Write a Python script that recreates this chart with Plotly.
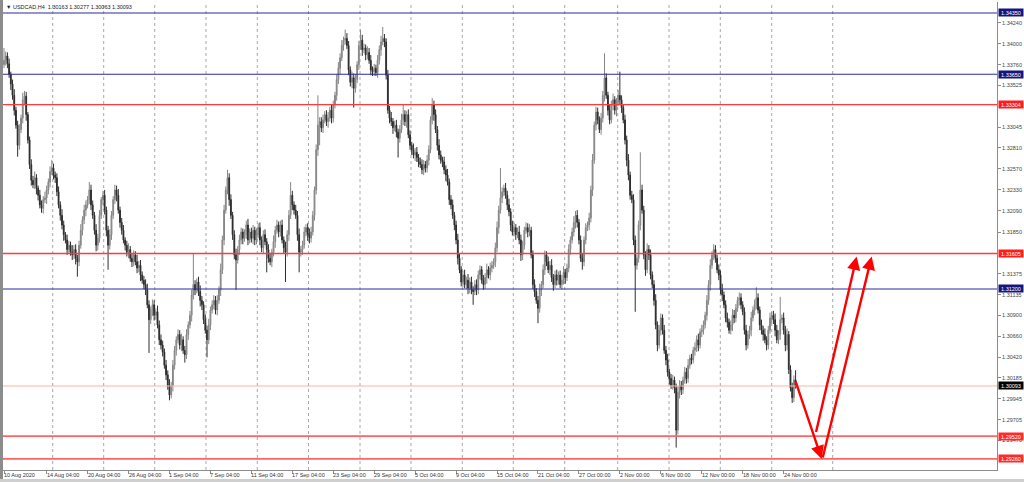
import plotly.graph_objects as go

# ---------------- data (USDCAD H4, 10 Aug 2020 -> 25 Nov 2020) ----------------
open_first = 1.3376
close = [
    1.3381, 1.3386, 1.3377, 1.3365, 1.3354, 1.3341, 1.3324, 1.3307, 1.3284, 1.3302, 1.3315, 1.3336, 1.3340, 1.3319, 1.3290, 1.3262, 1.3244, 1.3239, 1.3247, 1.3235, 1.3227, 1.3216, 1.3212, 1.3222, 1.3224, 1.3233, 1.3242, 1.3254, 1.3258, 1.3250, 1.3247,
    1.3231, 1.3216, 1.3204, 1.3193, 1.3182, 1.3176, 1.3165, 1.3170, 1.3162, 1.3159, 1.3165, 1.3155, 1.3151, 1.3170, 1.3187, 1.3199, 1.3210, 1.3216, 1.3222, 1.3233, 1.3216, 1.3204, 1.3187, 1.3170, 1.3178, 1.3204, 1.3222, 1.3227, 1.3210, 1.3187, 1.3170,
    1.3182, 1.3204, 1.3222, 1.3233, 1.3227, 1.3210, 1.3196, 1.3187, 1.3176, 1.3170, 1.3162, 1.3165, 1.3155, 1.3151, 1.3159, 1.3151, 1.3144, 1.3147, 1.3136, 1.3130, 1.3125, 1.3119, 1.3102, 1.3085, 1.3096, 1.3102, 1.3090, 1.3094, 1.3079, 1.3062, 1.3056,
    1.3048, 1.3033, 1.3022, 1.3010, 1.2999, 1.3010, 1.3033, 1.3050, 1.3062, 1.3068, 1.3056, 1.3062, 1.3050, 1.3045, 1.3068, 1.3079, 1.3090, 1.3113, 1.3125, 1.3119, 1.3128, 1.3117, 1.3107, 1.3102, 1.3085, 1.3073, 1.3062, 1.3079, 1.3096, 1.3102, 1.3107,
    1.3096, 1.3107, 1.3119, 1.3142, 1.3176, 1.3210, 1.3233, 1.3247, 1.3222, 1.3204, 1.3182, 1.3159, 1.3153, 1.3165, 1.3176, 1.3185, 1.3178, 1.3182, 1.3193, 1.3176, 1.3185, 1.3178, 1.3187, 1.3176, 1.3182, 1.3190, 1.3176, 1.3167, 1.3182, 1.3174, 1.3165,
    1.3155, 1.3151, 1.3162, 1.3174, 1.3187, 1.3193, 1.3185, 1.3193, 1.3176, 1.3167, 1.3162, 1.3182, 1.3204, 1.3227, 1.3216, 1.3210, 1.3204, 1.3182, 1.3162, 1.3165, 1.3170, 1.3185, 1.3190, 1.3182, 1.3178, 1.3185, 1.3204, 1.3233, 1.3279, 1.3307, 1.3311,
    1.3304, 1.3313, 1.3319, 1.3311, 1.3315, 1.3324, 1.3315, 1.3330, 1.3341, 1.3359, 1.3372, 1.3384, 1.3398, 1.3404, 1.3406, 1.3398, 1.3370, 1.3356, 1.3361, 1.3349, 1.3359, 1.3376, 1.3398, 1.3404, 1.3393, 1.3395, 1.3387, 1.3390, 1.3381, 1.3370, 1.3368,
    1.3372, 1.3367, 1.3381, 1.3393, 1.3402, 1.3406, 1.3402, 1.3364, 1.3324, 1.3315, 1.3311, 1.3304, 1.3307, 1.3299, 1.3292, 1.3302, 1.3313, 1.3319, 1.3311, 1.3319, 1.3296, 1.3284, 1.3279, 1.3273, 1.3276, 1.3270, 1.3265, 1.3262, 1.3256, 1.3262, 1.3258,
    1.3267, 1.3279, 1.3313, 1.3330, 1.3319, 1.3302, 1.3284, 1.3273, 1.3267, 1.3265, 1.3256, 1.3250, 1.3242, 1.3222, 1.3216, 1.3204, 1.3193, 1.3176, 1.3155, 1.3142, 1.3128, 1.3136, 1.3125, 1.3130, 1.3121, 1.3128, 1.3119, 1.3117, 1.3125, 1.3119, 1.3136,
    1.3142, 1.3130, 1.3125, 1.3133, 1.3142, 1.3136, 1.3144, 1.3147, 1.3151, 1.3167, 1.3190, 1.3210, 1.3224, 1.3231, 1.3235, 1.3227, 1.3216, 1.3208, 1.3193, 1.3185, 1.3190, 1.3182, 1.3185, 1.3176, 1.3159, 1.3170, 1.3187, 1.3190, 1.3185, 1.3187, 1.3159,
    1.3125, 1.3117, 1.3107, 1.3098, 1.3119, 1.3125, 1.3142, 1.3159, 1.3151, 1.3142, 1.3147, 1.3133, 1.3125, 1.3136, 1.3130, 1.3136, 1.3125, 1.3130, 1.3139, 1.3133, 1.3144, 1.3165, 1.3176, 1.3185, 1.3196, 1.3204, 1.3196, 1.3176, 1.3155, 1.3151, 1.3176,
    1.3190, 1.3193, 1.3201, 1.3233, 1.3267, 1.3307, 1.3322, 1.3313, 1.3302, 1.3315, 1.3341, 1.3361, 1.3341, 1.3324, 1.3313, 1.3330, 1.3336, 1.3324, 1.3333, 1.3341, 1.3336, 1.3327, 1.3313, 1.3290, 1.3267, 1.3250, 1.3227, 1.3222, 1.3176, 1.3147, 1.3155,
    1.3193, 1.3233, 1.3210, 1.3159, 1.3142, 1.3165, 1.3159, 1.3136, 1.3125, 1.3107, 1.3079, 1.3056, 1.3073, 1.3087, 1.3073, 1.3050, 1.3039, 1.3025, 1.3018, 1.3010, 1.3016, 1.3007, 1.2959, 1.3002, 1.3010, 1.3005, 1.3016, 1.3025, 1.3018, 1.3033, 1.3041,
    1.3039, 1.3050, 1.3053, 1.3062, 1.3056, 1.3071, 1.3073, 1.3079, 1.3090, 1.3107, 1.3125, 1.3147, 1.3159, 1.3165, 1.3155, 1.3142, 1.3136, 1.3119, 1.3113, 1.3102, 1.3087, 1.3082, 1.3073, 1.3079, 1.3090, 1.3087, 1.3098, 1.3107, 1.3110, 1.3102, 1.3094,
    1.3073, 1.3056, 1.3068, 1.3073, 1.3087, 1.3096, 1.3102, 1.3110, 1.3096, 1.3079, 1.3073, 1.3068, 1.3062, 1.3056, 1.3073, 1.3087, 1.3090, 1.3085, 1.3073, 1.3062, 1.3068, 1.3085, 1.3087, 1.3073, 1.3056, 1.3068, 1.3028, 1.3007, 1.2996, 1.30163, 1.30093,
]
# upper / lower shadows in pips
wick_up = [
    14,5,4,6,3,5,7,4,5,6,4,8,6,5,3,4,6,5,7,4,3,6,5,4,7,5,4,6,9,5,4,
    5,6,4,7,5,3,6,5,4,8,5,6,4,5,7,4,6,5,4,9,6,5,4,7,5,6,3,5,6,4,5,
    6,5,4,6,5,7,4,5,6,3,5,7,4,6,5,4,8,5,6,4,5,6,7,5,4,6,5,4,7,5,6,
    5,4,6,5,7,4,6,5,4,6,5,7,4,5,6,4,5,6,36,5,4,6,7,5,4,6,5,7,4,5,6,
    5,6,4,7,5,6,4,9,5,6,4,5,7,4,6,5,4,6,5,7,4,5,6,4,7,5,6,4,5,6,4,
    6,5,4,7,5,6,4,5,6,4,7,5,6,15,5,4,6,5,7,4,5,6,4,5,7,6,5,4,6,34,5,
    5,6,4,5,7,4,6,5,4,6,7,5,6,4,10,6,5,4,7,5,6,4,5,12,6,5,4,7,5,6,4,
    5,4,6,5,7,13,5,4,6,5,7,4,5,6,4,5,7,11,5,4,6,5,4,7,5,6,4,5,6,5,4,
    6,5,4,8,5,6,4,7,5,4,6,5,7,4,5,6,4,5,7,6,4,5,6,4,7,5,6,4,5,6,5,
    5,4,6,5,7,4,6,5,4,6,7,5,34,5,4,6,5,7,4,5,6,4,5,7,6,5,4,6,5,7,4,
    5,6,4,5,7,4,6,5,4,6,5,7,4,5,6,4,5,6,7,4,5,6,4,5,7,5,6,4,5,6,4,
    5,4,6,5,7,4,6,5,4,6,5,28,5,4,6,5,7,4,5,6,27,5,4,6,5,7,4,5,6,5,4,
    5,43,6,5,4,7,5,6,4,5,7,4,6,5,4,6,5,7,4,5,6,4,5,7,6,5,4,6,5,7,4,
    5,4,6,5,7,4,6,5,4,6,5,7,4,6,5,4,6,5,7,4,5,6,4,5,7,6,5,4,6,5,4,
    5,6,4,5,7,4,6,12,5,4,6,5,7,4,5,6,4,5,7,6,5,26,4,6,5,7,4,5,6,5,11,
]
wick_dn = [
    4,6,5,4,7,5,6,4,13,5,4,6,5,7,4,5,6,4,5,7,6,4,5,6,4,7,5,6,4,5,6,
    5,4,6,5,7,4,6,5,4,6,5,7,17,5,4,6,5,7,4,5,6,4,5,7,6,5,4,6,5,7,28,
    5,6,4,5,7,4,6,5,4,6,5,7,4,6,5,4,6,5,7,4,5,6,4,38,5,7,6,5,4,6,5,
    5,4,6,5,6,4,7,5,6,4,5,7,4,9,5,6,4,7,5,6,4,5,7,6,5,4,20,5,6,4,5,
    5,6,4,7,5,6,4,5,7,4,6,5,34,4,6,5,7,4,5,6,4,5,7,6,5,4,6,5,7,4,26,
    5,4,6,5,7,4,6,5,4,6,34,5,7,4,6,5,4,7,23,5,6,4,5,7,6,5,4,6,5,7,23,
    5,6,4,5,7,4,6,5,4,6,5,7,4,6,5,4,6,5,7,22,5,4,6,5,7,4,6,5,4,6,5,
    5,4,6,5,7,4,6,5,4,6,5,7,4,6,22,5,4,6,5,7,4,5,6,4,7,5,6,4,5,6,5,
    5,6,4,5,7,4,6,5,4,6,5,7,4,6,5,4,6,5,7,4,5,6,4,5,7,6,5,15,4,6,5,
    5,4,6,5,7,4,6,5,4,6,5,7,4,6,5,4,6,5,7,4,5,6,4,5,7,6,5,4,6,5,4,
    5,6,4,17,5,7,4,6,5,4,6,5,7,4,6,5,4,6,5,7,4,5,6,4,5,7,6,5,4,9,5,
    5,4,6,5,7,4,6,5,4,6,5,7,4,6,5,4,6,5,7,4,5,6,4,5,7,6,5,4,6,53,5,
    5,6,4,5,7,4,6,5,4,6,5,7,4,6,5,4,6,5,7,4,5,6,20,5,7,6,5,4,6,5,4,
    5,4,6,5,7,4,6,5,4,6,5,7,4,6,5,4,6,5,7,4,5,6,4,5,7,6,5,4,6,5,4,
    5,6,4,5,7,4,6,5,4,6,5,7,4,6,5,4,6,5,7,4,5,6,4,5,7,6,5,4,6,5,3,
]

date_labels = ["10 Aug 2020", "14 Aug 04:00", "20 Aug 04:00", "26 Aug 04:00", "1 Sep 04:00",
               "7 Sep 04:00", "11 Sep 04:00", "17 Sep 04:00", "23 Sep 04:00", "29 Sep 04:00",
               "5 Oct 04:00", "9 Oct 04:00", "15 Oct 04:00", "21 Oct 04:00", "27 Oct 00:00",
               "2 Nov 00:00", "6 Nov 00:00", "12 Nov 00:00", "18 Nov 00:00", "24 Nov 00:00"]
date_bars = [0, 25, 49, 73, 97, 121, 145, 169, 193, 217, 241, 265, 289, 313, 337, 361, 385, 409, 433, 457]
week_grid = [28.55, 58.44, 88.34, 118.41, 148.48, 178.49, 208.68, 238.57, 268.64, 298.54,
             328.66, 359.73, 389.8, 419.87, 450.0, 485.76]

price_ticks = [1.34240, 1.34000, 1.33760, 1.33525, 1.33045, 1.32810, 1.32570, 1.32330, 1.32090,
               1.31850, 1.31375, 1.31135, 1.30900, 1.30660, 1.30420, 1.30185, 1.29945, 1.29705,
               1.29470]

levels = [1.34350, 1.33650, 1.33304, 1.31605, 1.31200, 1.29520, 1.29260]
level_kind = ["blue", "blue", "red", "red", "blue", "red2", "red2"]
bid_price = 1.30093
title_text = "USDCAD,H4  1.30163 1.30277 1.30063 1.30093"

# arrows: (tail bar, tail price, head bar, head price)
arrows = [
    (463.7, 1.30163, 479.3, 1.29260),
    (475.8, 1.29550, 499.8, 1.31570),
    (479.7, 1.29260, 508.6, 1.31570),
]

# ---------------- build ----------------
assert len(close) == len(wick_up) == len(wick_dn)
PIP = 0.0001
n = len(close)
bars = list(range(n))
opens = [open_first] + close[:-1]
highs = [max(o, c) + u * PIP for o, c, u in zip(opens, close, wick_up)]
lows = [min(o, c) - d * PIP for o, c, d in zip(opens, close, wick_dn)]

FONT = "Liberation Sans, Arial, sans-serif"
fig = go.Figure()
fig.add_trace(go.Candlestick(
    x=bars, open=opens, high=highs, low=lows, close=close,
    increasing=dict(line=dict(color="#858585", width=1), fillcolor="#a0a0a0"),
    decreasing=dict(line=dict(color="#2e2e2e", width=1), fillcolor="#111111"),
    whiskerwidth=0, showlegend=False, hoverinfo="skip",
))

shapes = []
for g in week_grid:
    shapes.append(dict(type="line", xref="x", yref="paper", x0=g, x1=g, y0=0, y1=1,
                       line=dict(color="#a8a8a8", width=1, dash="dot"), layer="below"))

col = {"blue": "#2b2b9e", "red": "#ff3a3a", "red2": "#ff6464"}
box = {"blue": "#16167a", "red": "#ff1c1c", "red2": "#ff2a2a"}
wid = {"blue": 1.1, "red": 1.3, "red2": 1.8}
for lv, k in zip(levels, level_kind):
    shapes.append(dict(type="line", xref="paper", yref="y", x0=0, x1=1, y0=lv, y1=lv,
                       line=dict(color=col[k], width=wid[k]), layer="above"))
shapes.append(dict(type="line", xref="paper", yref="y", x0=0, x1=1, y0=bid_price, y1=bid_price,
                   line=dict(color="#ffb4a0", width=1), layer="above"))
# window frame pieces
shapes.append(dict(type="rect", xref="paper", yref="paper", x0=-3 / 994, x1=0, y0=-12 / 468, y1=1 + 2 / 468,
                   fillcolor="#8c8c8c", line=dict(width=0)))
shapes.append(dict(type="rect", xref="paper", yref="paper", x0=-3 / 994, x1=1 + 27 / 994,
                   y0=-12 / 468, y1=-9 / 468, fillcolor="#cfcfcf", line=dict(width=0)))

annotations = []
for lab, b in zip(date_labels, date_bars):
    annotations.append(dict(x=b, xref="x", y=-4.5 / 468, yref="paper", text=lab, showarrow=False,
                            xanchor="left", yanchor="middle", xshift=-2,
                            font=dict(size=5.5, color="#333333", family=FONT)))
for lv, k in zip(levels, level_kind):
    annotations.append(dict(x=1 + 1 / 994, xref="paper", y=lv, yref="y", text=f"{lv:.5f}",
                            showarrow=False, xanchor="left", yanchor="middle", width=23, height=6,
                            bgcolor=box[k], borderpad=0.5, align="center",
                            font=dict(size=5.5, color="white", family=FONT)))
annotations.append(dict(x=1 + 1 / 994, xref="paper", y=bid_price, yref="y", text=f"{bid_price:.5f}",
                        showarrow=False, xanchor="left", yanchor="middle", width=23, height=6,
                        bgcolor="#000000", borderpad=0.5, align="center",
                        font=dict(size=5.5, color="white", family=FONT)))
annotations.append(dict(x=1 / 994, xref="paper", y=(470 - 7) / 468, yref="paper",
                        text="▼ " + title_text, showarrow=False, xanchor="left", yanchor="middle",
                        font=dict(size=5.5, color="#222222", family=FONT)))
for tb, tp, hb, hp in arrows:
    annotations.append(dict(x=hb, y=hp, xref="x", yref="y", ax=tb, ay=tp, axref="x", ayref="y",
                            text="", showarrow=True, arrowhead=2, arrowsize=1.1, arrowwidth=2.4,
                            arrowcolor="#ff0000", standoff=0, startstandoff=0))

fig.update_layout(
    width=1024, height=482,
    margin=dict(l=3, r=27, t=2, b=12),
    paper_bgcolor="white", plot_bgcolor="white",
    shapes=shapes, annotations=annotations,
    font=dict(family=FONT, size=5.5, color="#333333"),
    xaxis=dict(range=[-0.586, 582.06], rangeslider=dict(visible=False), showgrid=False,
               zeroline=False, showline=True, linecolor="#8c8c8c", linewidth=1,
               tickvals=date_bars, ticks="outside", ticklen=3, tickcolor="#8c8c8c",
               showticklabels=False, fixedrange=True),
    yaxis=dict(range=[1.29134, 1.344752], side="right", showgrid=False, zeroline=False,
               showline=True, linecolor="#8c8c8c", linewidth=1,
               tickvals=price_ticks, ticktext=[f"{t:.5f}" for t in price_ticks],
               ticks="outside", ticklen=3, tickcolor="#8c8c8c",
               tickfont=dict(size=5.5, color="#444444", family=FONT), fixedrange=True),
)

fig.write_html("out.html", config={"displayModeBar": False},
               post_script="document.body.style.margin='0';document.body.style.overflow='hidden';")
